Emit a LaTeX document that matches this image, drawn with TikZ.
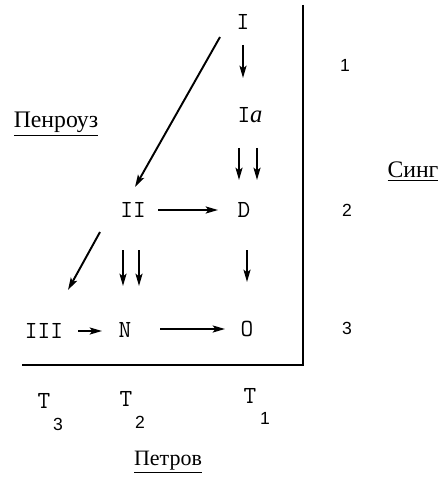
\documentclass[tikz,border=0pt]{standalone}
\usepackage{fontspec}
\setmainfont{Liberation Serif}
\newfontfamily\numfont{Liberation Sans}
\usepackage{tikz}
\usetikzlibrary{arrows.meta,positioning}

\begin{document}
\begin{tikzpicture}[
  x=0.02cm, y=-0.02cm,
  >={Stealth[length=7pt,width=4pt,inset=1.5pt]},
  cls/.style={font=\ttfamily\fontsize{14}{14}\selectfont, inner sep=1pt},
  idx/.style={font=\numfont\fontsize{10}{10}\selectfont, inner sep=1pt},
  who/.style={font=\fontsize{13.5}{13.5}\selectfont, inner sep=1pt},
  arr/.style={->, line width=1.1pt},
  frame/.style={line width=1.2pt}
]
\useasboundingbox (0,0) rectangle (441,479);

% ---- classes ----
\node[cls] (I)   at (243,22)  {I};
\node[cls] (Ia)  at (250,115) {I\textit{\fontsize{14}{14}\selectfont\rmfamily a}};
\node[cls] (D)   at (244,210) {D};
\node[cls] (II)  at (133,210) {II};
\node[cls] (III) at (44,331)  {III};
\node[cls] (N)   at (125,330) {N};
\node[cls] (O)   at (247,329) {O};

% ---- transitions ----
\draw[arr] ([shift={(0,23)}]I.center) -- ([shift={(-7,-37)}]Ia.center);
\draw[arr] ([shift={(-11,33)}]Ia.center) -- ([shift={(-5,-30)}]D.center);
\draw[arr] ([shift={(7,33)}]Ia.center) -- ([shift={(13,-30)}]D.center);
\draw[arr] ([shift={(-23,15)}]I.center) -- ([shift={(2,-23)}]II.center);
\draw[arr] ([shift={(25,0)}]II.center) -- ([shift={(-26,0)}]D.center);
\draw[arr] ([shift={(-33,22)}]II.center) -- ([shift={(24,-41)}]III.center);
\draw[arr] ([shift={(-10,40)}]II.center) -- ([shift={(-2,-44)}]N.center);
\draw[arr] ([shift={(6,40)}]II.center) -- ([shift={(14,-44)}]N.center);
\draw[arr] ([shift={(3,40)}]D.center) -- ([shift={(0,-47)}]O.center);
\draw[arr] ([shift={(34,0)}]III.center) -- ([shift={(-23,1)}]N.center);
\draw[arr] ([shift={(35,-1)}]N.center) -- ([shift={(-22,0)}]O.center);

% ---- frame ----
\coordinate (ftop) at (303,5);
\coordinate (fcorner) at (303,365);
\coordinate (fleft) at (22,365);
\draw[frame] (ftop) -- (fcorner) -- (fleft);

% ---- levels ----
\node[idx] (l1) at (345,65)  {1};
\node[idx] (l2) at (347,210) {2};
\node[idx] (l3) at (347,328) {3};

% ---- types ----
\node[cls] (t3) at (44,401)  {T};
\node[idx] (t3i) at (58,424) {3};
\node[cls] (t2) at (126,399) {T};
\node[idx] (t2i) at (140,422) {2};
\node[cls] (t1) at (250,396) {T};
\node[idx] (t1i) at (265,418) {1};

% ---- authors ----
\node[who] (penrose) at (56,124) {\underline{Пенроуз}};
\node[who] (synge)   at (413,172) {\underline{Синг}};
\node[who, font=\fontsize{12.5}{12.5}\selectfont] (petrov) at (168,462) {\underline{Петров}};

\end{tikzpicture}
\end{document}
